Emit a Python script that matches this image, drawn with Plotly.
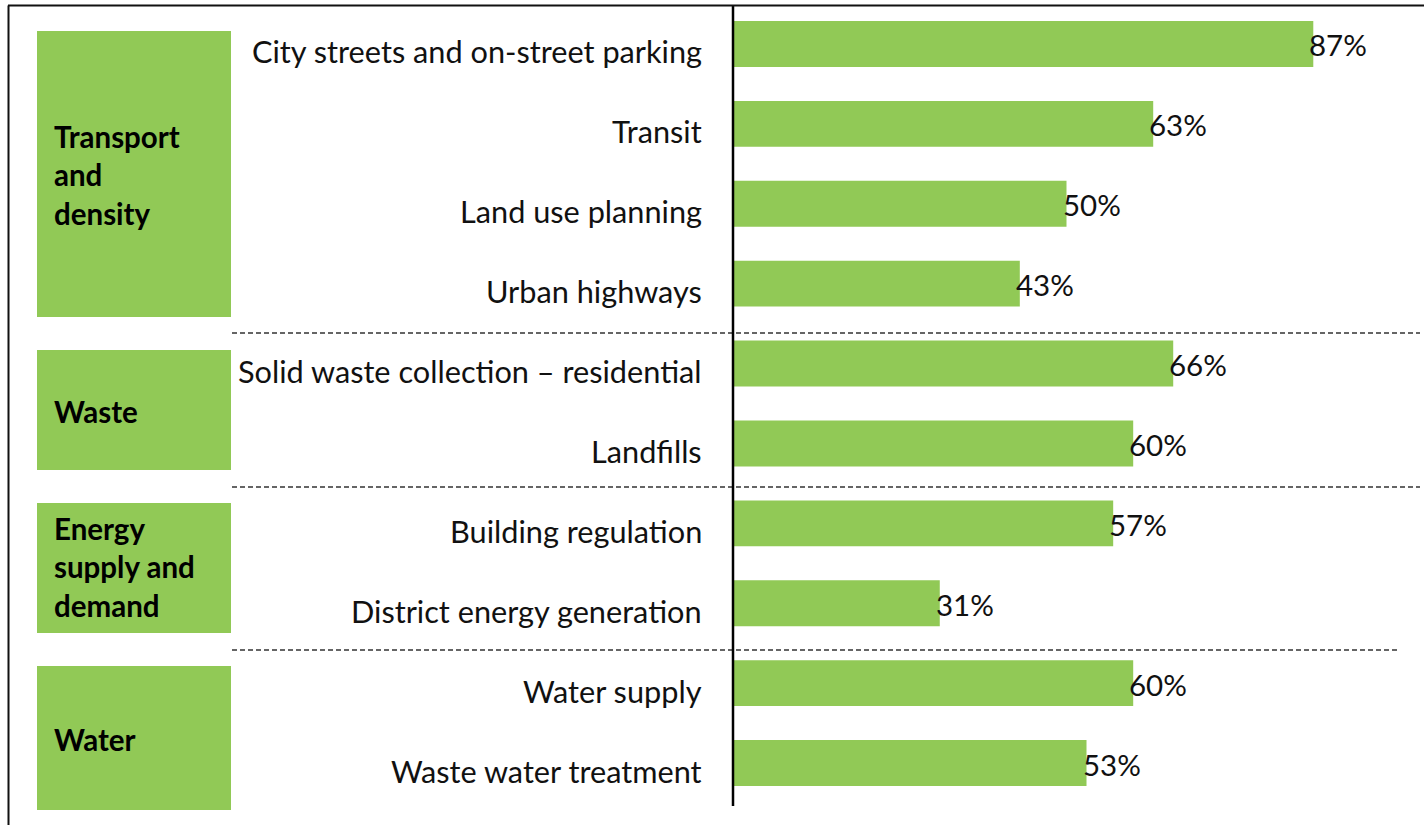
import plotly.graph_objects as go

# ---- data ----
items = ["City streets and on-street parking", "Transit", "Land use planning", "Urban highways",
         "Solid waste collection – residential", "Landfills",
         "Building regulation", "District energy generation",
         "Water supply", "Waste water treatment"]
values = [87, 63, 50, 43, 66, 60, 57, 31, 60, 53]
groups = ["Transport<br>and<br>density", "Waste", "Energy<br>supply and<br>demand", "Water"]

# ---- layout constants (pixels) ----
W, H = 1424, 825
PL, PR, PT, PB = 733, 1400, 4, 803
GREEN = "#91C956"
FONT = "Lato"

def xp(px):
    return (px - PL) / (PR - PL)

def yp(py):
    return (PB - py) / (PB - PT)

fig = go.Figure()
fig.add_trace(go.Bar(
    x=values, y=items, orientation="h",
    marker=dict(color=GREEN, line=dict(width=0)),
    width=0.575, hoverinfo="skip",
))

annotations = []
# value labels
for it, v in zip(items, values):
    annotations.append(dict(x=v, y=it, xref="x", yref="y", text=f"{v}%", showarrow=False,
                            xanchor="left", yanchor="middle", xshift=-6, yshift=-1,
                            font=dict(family=FONT, size=29.5, color="#111")))
# item labels
for it in items:
    annotations.append(dict(x=xp(704), y=it, xref="paper", yref="y", text=it, showarrow=False,
                            xanchor="right", yanchor="middle", yshift=-8,
                            font=dict(family=FONT, size=30.7, color="#111")))

# group boxes (pixel extents) and labels
boxes = [(31, 317, 175), (350, 470, 411), (503, 633, 567), (666, 810, 739)]
shapes = []
for (top, bot, cy), g in zip(boxes, groups):
    shapes.append(dict(type="rect", xref="paper", yref="paper", x0=xp(37), x1=xp(231),
                       y0=yp(bot), y1=yp(top), fillcolor=GREEN, line=dict(width=0), layer="below"))
    annotations.append(dict(x=xp(52), y=yp(cy), xref="paper", yref="paper", text=f"<b>{g}</b>",
                            showarrow=False, xanchor="left", yanchor="middle", align="left",
                            font=dict(family=FONT, size=29.5, color="#000")))

# dashed separators
for py, x1 in [(333, 1420), (487, 1420), (650, 1397)]:
    shapes.append(dict(type="line", xref="paper", yref="paper", x0=xp(232), x1=xp(x1),
                       y0=yp(py), y1=yp(py), line=dict(color="#333", width=1.5, dash="5px,3px")))

# axis line
shapes.append(dict(type="line", xref="paper", yref="paper", x0=0, x1=0, y0=yp(806), y1=yp(5),
                   line=dict(color="#000", width=2.5)))
# frame
shapes.append(dict(type="line", xref="paper", yref="paper", x0=xp(8), x1=xp(1424), y0=yp(5.5), y1=yp(5.5),
                   line=dict(color="#111", width=2)))
shapes.append(dict(type="line", xref="paper", yref="paper", x0=xp(8.5), x1=xp(8.5), y0=yp(825), y1=yp(5.5),
                   line=dict(color="#111", width=2)))

fig.update_layout(
    width=W, height=H,
    margin=dict(l=PL, r=W - PR, t=PT, b=H - PB, pad=0),
    paper_bgcolor="white", plot_bgcolor="white",
    showlegend=False,
    xaxis=dict(range=[0, 100], visible=False, fixedrange=True),
    yaxis=dict(autorange="reversed", showticklabels=False, showgrid=False, zeroline=False,
               showline=False, ticks="", fixedrange=True),
    shapes=shapes, annotations=annotations,
    font=dict(family=FONT),
)

fig.write_html("out.html", config={"displayModeBar": False},
               post_script="document.body.style.margin='0';document.body.style.overflow='hidden';")
